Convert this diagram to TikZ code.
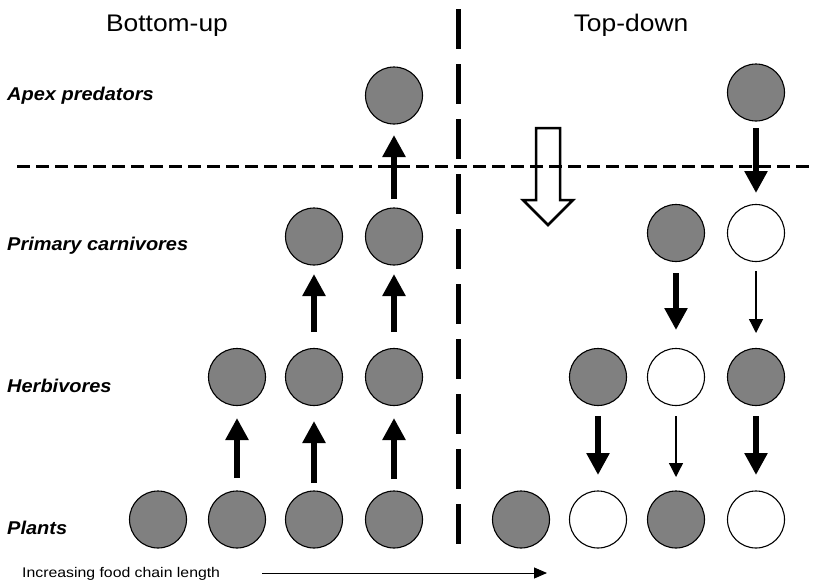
\documentclass[tikz,border=0pt]{standalone}
\usepackage{fontspec}
\setmainfont{Liberation Sans}
\usetikzlibrary{arrows.meta}
\definecolor{orggray}{RGB}{128,128,128}
\begin{document}
\begin{tikzpicture}[x=1pt,y=-1pt,
  org/.style={circle,draw=black,line width=1.1pt,minimum size=57pt,inner sep=0pt,outer sep=0pt},
  full/.style={org,fill=orggray},
  void/.style={org,fill=white},
  title/.style={anchor=base,inner sep=0pt,font=\fontsize{24}{28}\selectfont},
  lvl/.style={anchor=base west,inner sep=0pt,font=\fontsize{18.5}{22}\selectfont\bfseries\itshape},
  strong/.style={line width=6pt,-{Triangle[length=22pt,width=22pt]}},
  weak/.style={line width=1.3pt,-{Triangle[length=14pt,width=14pt]}},
]
\useasboundingbox (0,0) rectangle (819,584);

% titles
\node[title] (tbu) at (167,31) {\scalebox{1.1}[1]{Bottom-up}};
\node[title] (ttd) at (631,31) {\scalebox{1.1}[1]{Top-down}};

% level labels
\node[lvl] (lapex) at (7,100.7) {\scalebox{1.08}[1]{Apex predators}};
\node[lvl] (lcarn) at (7,250.5) {\scalebox{1.08}[1]{Primary carnivores}};
\node[lvl] (lherb) at (7,392) {\scalebox{1.08}[1]{Herbivores}};
\node[lvl] (lplant) at (7,534) {\scalebox{1.08}[1]{Plants}};

% dashed separators
\draw[line width=5pt,dash pattern=on 40pt off 15pt] (458,9) -- (458,545);
\draw[line width=3pt,dash pattern=on 13pt off 6pt] (17,166) -- (812,166);

% bottom-up
\node[full] (bp1) at (158,519.5) {};
\node[full] (bp2) at (237,519.5) {};
\node[full] (bp3) at (314,519.5) {};
\node[full] (bp4) at (394,519.5) {};
\node[full] (bh2) at (237,377) {};
\node[full] (bh3) at (314,377) {};
\node[full] (bh4) at (394,377) {};
\node[full] (bc3) at (314,236.5) {};
\node[full] (bc4) at (394,236.5) {};
\node[full] (ba4) at (394,95.5) {};

\draw[strong,shorten <=13pt,shorten >=12.5pt] (bp2) -- (bh2);
\draw[strong,shorten <=8pt,shorten >=15.5pt] (bp3) -- (bh3);
\draw[strong,shorten <=12pt,shorten >=12.5pt] (bp4) -- (bh4);
\draw[strong,shorten <=16.5pt,shorten >=9pt] (bh3) -- (bc3);
\draw[strong,shorten <=16.5pt,shorten >=9pt] (bh4) -- (bc4);
\draw[strong,shorten <=9pt,shorten >=11pt] (bc4) -- (ba4);

% top-down
\node[full] (tp1) at (521,519.5) {};
\node[void] (tp2) at (598,519.5) {};
\node[full] (tp3) at (676,519.5) {};
\node[void] (tp4) at (756,519.5) {};
\node[full] (th2) at (598,377) {};
\node[void] (th3) at (676,377) {};
\node[full] (th4) at (756,377) {};
\node[full] (tc3) at (676,233) {};
\node[void] (tc4) at (756,233) {};
\node[full] (ta4) at (756,92.5) {};

\draw[strong,shorten <=7pt,shorten >=11.5pt] (ta4) -- (tc4);
\draw[strong,shorten <=11.5pt,shorten >=18.5pt] (tc3) -- (th3);
\draw[weak,shorten <=9.5pt,shorten >=15.5pt] (tc4) -- (th4);
\draw[strong,shorten <=10.5pt,shorten >=16pt] (th2) -- (tp2);
\draw[weak,shorten <=10.5pt,shorten >=14pt] (th3) -- (tp3);
\draw[strong,shorten <=10.5pt,shorten >=16pt] (th4) -- (tp4);

% hollow arrow
\draw[line width=2.5pt,line join=miter]
  (536,128) -- (560,128) -- (560,200) -- (573,200) -- (548,225)
  -- (523,200) -- (536,200) -- cycle;

% food chain length
\node[anchor=base west,inner sep=0pt,font=\fontsize{14}{16}\selectfont] (fcl) at (22,577)
  {\scalebox{1.13}[1]{Increasing food chain length}};
\coordinate (fa) at (262,573);
\coordinate (fb) at (547,573);
\draw[line width=1pt,-{Triangle[length=13pt,width=11pt]}] (fa) -- (fb);
\end{tikzpicture}
\end{document}
